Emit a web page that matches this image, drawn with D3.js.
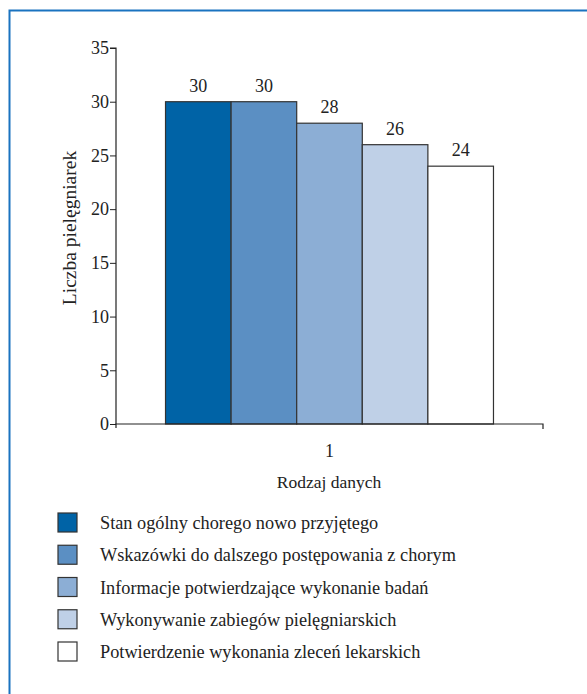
<!DOCTYPE html>
<html lang="pl"><head><meta charset="utf-8">
<script src="https://cdn.jsdelivr.net/npm/d3@7"></script>
<style>
html,body{margin:0;padding:0;background:#fff;}
#fig{display:block;font-family:"Liberation Serif","Times New Roman",Tinos,"DejaVu Serif",serif;}
#fig text{font-family:inherit;fill:#222;}
</style>
</head>
<body>
<svg id="fig" width="587" height="694" font-family="Liberation Serif, DejaVu Serif, serif"></svg>
<script>
const groups = ["1"];
const seriesNames = [
  "Stan ogólny chorego nowo przyjętego",
  "Wskazówki do dalszego postępowania z chorym",
  "Informacje potwierdzające wykonanie badań",
  "Wykonywanie zabiegów pielęgniarskich",
  "Potwierdzenie wykonania zleceń lekarskich"
];
const seriesValues = [30, 30, 28, 26, 24];
const seriesColors = ["#0063a6", "#5b8fc3", "#8caed5", "#bfd0e7", "#ffffff"];
const yTicks = [0, 5, 10, 15, 20, 25, 30, 35];

const INK = "#222";
const svg = d3.select("#fig");

// outer frame (top and left edges visible)
svg.append("path")
  .attr("d", "M9.5,694 V10.5 H587")
  .attr("fill", "none").attr("stroke", "#1a73c0").attr("stroke-width", 2);

const x0 = 116, x1 = 543, yTop = 48, yBot = 424;

const y = d3.scaleLinear().domain([0, 35]).range([yBot, yTop]);
const xg = d3.scaleBand().domain(groups).range([x0, x1]).paddingInner(0).paddingOuter(0.151);
const xs = d3.scaleBand().domain(d3.range(seriesValues.length)).range([0, xg.bandwidth()]);

// bars
const g = svg.append("g").attr("transform", `translate(${xg("1")},0)`);
g.selectAll("rect").data(seriesValues).join("rect")
  .attr("x", (d, i) => xs(i))
  .attr("y", d => y(d))
  .attr("width", xs.bandwidth())
  .attr("height", d => y(0) - y(d))
  .attr("fill", (d, i) => seriesColors[i])
  .attr("stroke", "#333").attr("stroke-width", 1.2);

g.selectAll("text.val").data(seriesValues).join("text")
  .attr("class", "val")
  .attr("x", (d, i) => xs(i) + xs.bandwidth() / 2)
  .attr("y", d => y(d) - 10)
  .attr("text-anchor", "middle")
  .attr("font-size", 18)
  .text(d => d);

// y axis
const yAxis = d3.axisLeft(y).tickValues(yTicks).tickSize(6).tickPadding(1);
const ya = svg.append("g").attr("transform", `translate(${x0},0)`).call(yAxis)
  .attr("font-family", null).attr("font-size", 18);
ya.select(".domain").attr("stroke", INK).attr("stroke-width", 1.2).attr("d", `M-6,${yTop}H0V${yBot}`);
ya.selectAll(".tick line").attr("stroke", INK);

// x axis
const xAxis = d3.axisBottom(xg).tickSize(0).tickPadding(20);
const xa = svg.append("g").attr("transform", `translate(0,${yBot})`).call(xAxis)
  .attr("font-family", null).attr("font-size", 18);
xa.select(".domain").attr("stroke", INK).attr("stroke-width", 1.2).attr("d", `M${x0},4V0H${x1}V5`);
xa.selectAll(".tick text").attr("dy", null).attr("y", 33);

// axis titles
svg.append("text")
  .attr("transform", "translate(76,228) rotate(-90)")
  .attr("text-anchor", "middle")
  .attr("font-size", 19.5)
  .text("Liczba pielęgniarek");
svg.append("text")
  .attr("x", 329).attr("y", 488)
  .attr("text-anchor", "middle")
  .attr("font-size", 17.5)
  .text("Rodzaj danych");

// legend
const legendY = d3.scalePoint().domain(d3.range(seriesNames.length)).range([523, 652]);
const lg = svg.append("g");
const rows = lg.selectAll("g").data(seriesNames).join("g")
  .attr("transform", (d, i) => `translate(58,${legendY(i)})`);
rows.append("rect")
  .attr("x", 0).attr("y", -10).attr("width", 19).attr("height", 19)
  .attr("fill", (d, i) => seriesColors[i])
  .attr("stroke", "#333").attr("stroke-width", 1.2);
rows.append("text")
  .attr("x", 42).attr("y", 6)
  .attr("font-size", 18.3)
  .text(d => d);
</script>
</body></html>
